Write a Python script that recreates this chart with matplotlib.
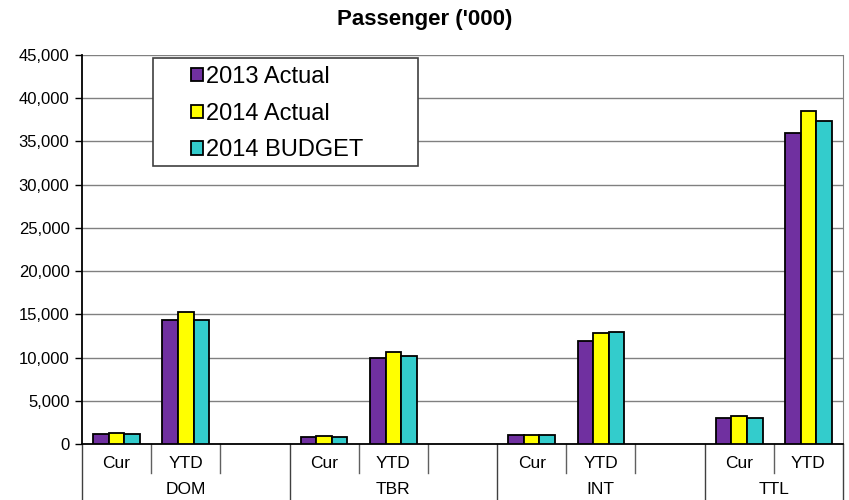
import numpy as np
import matplotlib
matplotlib.use("Agg")
import matplotlib.pyplot as plt
from matplotlib.patches import Rectangle
from matplotlib.ticker import FuncFormatter

plt.rcParams['font.family'] = ['Liberation Sans', 'DejaVu Sans']

groups = ['DOM', 'TBR', 'INT', 'TTL']
subcats = ['Cur', 'YTD', '']
series = ['2013 Actual', '2014 Actual', '2014 BUDGET']
colors = ['#7030A0', '#FFFF00', '#33CCCC']

# slots: DOM Cur, DOM YTD, gap, TBR Cur, TBR YTD, gap, INT Cur, INT YTD, gap, TTL Cur, TTL YTD
act_2013 = [1120, 14400, np.nan, 810, 9950, np.nan, 1000, 11900, np.nan, 2970, 35980]
act_2014 = [1310, 15320, np.nan, 925, 10640, np.nan, 1010, 12840, np.nan, 3240, 38480]
budget_2014 = [1120, 14290, np.nan, 810, 10180, np.nan, 1010, 12960, np.nan, 2970, 37330]
values = [act_2013, act_2014, budget_2014]

n = len(act_2013)
x = np.arange(n)
w = 0.225

fig = plt.figure(figsize=(8.49, 5.0), dpi=100)
ax = fig.add_axes([82/849, 56/500, 761/849, 389/500])

for i, (vals, c, name) in enumerate(zip(values, colors, series)):
    ax.bar(x + (i - 1) * w, vals, w, color=c, edgecolor='black', linewidth=1.3,
           label=name, zorder=3)

ax.set_xlim(-0.5, n - 0.5)
ax.set_ylim(0, 45000)
ax.set_yticks(np.arange(0, 45001, 5000))
ax.yaxis.set_major_formatter(FuncFormatter(lambda v, p: f'{int(v):,}'))
ax.tick_params(axis='y', labelsize=12, length=5, width=1, direction='out', pad=4)
ax.set_xticks([])
ax.grid(axis='y', color='#808080', linewidth=1, zorder=0)

ax.spines['top'].set_visible(False)
ax.spines['right'].set_color('#808080')
ax.spines['left'].set_linewidth(1.3)
ax.spines['bottom'].set_linewidth(1.3)

# hierarchical category axis
tr = ax.get_xaxis_transform()
short_y, long_y = -0.075, -0.15
for k in range(n + 1):
    xb = k - 0.5
    long_line = (k % 3 == 0) or k == n
    ax.plot([xb, xb], [0, long_y if long_line else short_y], transform=tr,
            color='#404040' if long_line else '#606060', linewidth=1, clip_on=False)
for k in range(n):
    lab = subcats[k % 3]
    if lab:
        ax.text(k, -0.049, lab, transform=tr, ha='center', va='center', fontsize=12.5)
for g, name in enumerate(groups):
    start = g * 3
    end = min(start + 3, n) - 1
    ax.text((start + end) / 2, -0.118, name,
            transform=tr, ha='center', va='center', fontsize=12.5)

fig.text(0.5, 0.962, "Passenger ('000)", ha='center', va='center',
         fontsize=16, fontweight='bold')

# legend box
box = Rectangle((71/761, (444-166)/389), 265/761, 108/389, transform=ax.transAxes,
                facecolor='white', edgecolor='#404040', linewidth=1.2, zorder=4)
ax.add_patch(box)
leg = ax.legend(loc='upper left', bbox_to_anchor=(109/761, (444-66)/389),
                frameon=False, fontsize=17, handlelength=0.5, handleheight=0.5,
                handletextpad=0.12, labelspacing=0.62, borderaxespad=0, borderpad=0)
leg.set_zorder(5)

fig.savefig('out.png', dpi=100)
